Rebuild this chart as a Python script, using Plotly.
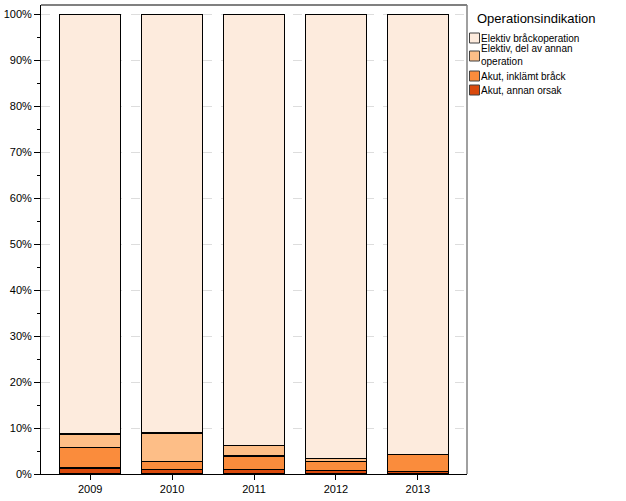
import plotly.graph_objects as go

years = ["2009", "2010", "2011", "2012", "2013"]
akut_annan = [1.3, 1.0, 0.9, 0.7, 0.6]
akut_inklamt = [4.4, 1.7, 3.0, 2.0, 3.6]
elektiv_del = [3.0, 6.2, 2.3, 0.7, 0.1]
elektiv_brack = [91.3, 91.1, 93.8, 96.6, 95.7]

tick_vals = list(range(0, 101, 10))
tick_text = [f"{v}%" for v in tick_vals]

series = [
    ("Akut, annan orsak", akut_annan, "#D9490C"),
    ("Akut, inklämt bråck", akut_inklamt, "#FA8C3C"),
    ("Elektiv, del av annan<br>operation", elektiv_del, "#FDBE87"),
    ("Elektiv bråckoperation", elektiv_brack, "#FDEBDD"),
]

W, H = 626, 501
ML, MR, MT, MB = 41, 159, 5, 27
PW, PH = W - ML - MR, H - MT - MB


def px(x):
    return (x - ML) / PW


def py(y):
    return (H - MB - y) / PH


fig = go.Figure()
for name, vals, col in series:
    fig.add_trace(go.Bar(
        x=years, y=vals, name=name,
        marker=dict(color=col, line=dict(color="black", width=1.2)),
        width=0.75, showlegend=False,
    ))

shapes = [
    dict(type="line", xref="paper", yref="paper", x0=0, x1=1, y0=1, y1=1,
         line=dict(color="#808080", width=2)),
    dict(type="line", xref="paper", yref="paper", x0=1, x1=1, y0=0, y1=1,
         line=dict(color="#808080", width=1.5)),
]
annotations = [
    dict(text="Operationsindikation", xref="paper", yref="paper",
         x=px(475), y=py(18), xanchor="left", yanchor="middle",
         showarrow=False, font=dict(size=13)),
]
# legend entries (top to bottom): label, colour, box centre y, text lines y
legend_rows = [
    (series[3][0], series[3][2], 38, 38),
    (series[2][0], series[2][2], 56, 55),
    (series[1][0], series[1][2], 76, 76),
    (series[0][0], series[0][2], 90, 90),
]
for label, col, by, ty in legend_rows:
    shapes.append(dict(type="rect", xref="paper", yref="paper",
                       x0=px(469.5), x1=px(479.5), y0=py(by - 5), y1=py(by + 5),
                       fillcolor=col, line=dict(color="#404040", width=1)))
    annotations.append(dict(text=label, xref="paper", yref="paper",
                            x=px(479), y=py(ty), xanchor="left", yanchor="middle",
                            align="left", showarrow=False,
                            font=dict(size=10)))

fig.update_layout(
    barmode="stack",
    width=W, height=H,
    margin=dict(l=ML, r=MR, t=MT, b=MB),
    paper_bgcolor="white", plot_bgcolor="white",
    font=dict(family="Liberation Sans, Arial, sans-serif", size=11, color="black"),
    showlegend=False,
    xaxis=dict(
        range=[-0.6, 4.6],
        showline=True, linecolor="black", linewidth=1,
        ticks="outside", ticklen=5, tickcolor="black",
        showgrid=False,
    ),
    yaxis=dict(
        range=[0, 102.0],
        tickmode="array", tickvals=tick_vals, ticktext=tick_text,
        showline=True, linecolor="black", linewidth=1,
        ticks="outside", ticklen=6, tickcolor="black",
        showgrid=True, gridcolor="#DDDDDD", griddash="dash", gridwidth=1,
        zeroline=False,
        minor=dict(tickmode="array", tickvals=list(range(5, 100, 10)),
                   ticks="outside", ticklen=3, tickcolor="black", showgrid=False),
    ),
    shapes=shapes,
    annotations=annotations,
)

fig.write_html("out.html")
